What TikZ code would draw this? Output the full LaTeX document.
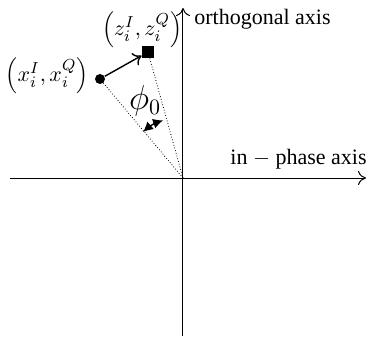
\documentclass[tikz,border=0pt]{standalone}
\usepackage{fontspec}
\setmainfont{Liberation Serif}
\usetikzlibrary{arrows.meta}
\begin{document}
\begin{tikzpicture}[x=0.5pt,y=-0.5pt,
  axis/.style={line width=0.5pt,-{To[length=4pt,width=7pt]}},
  guide/.style={line width=0.4pt,densely dotted},
  lbl/.style={inner sep=0pt,font=\fontsize{11}{13}\selectfont},
  pt/.style={circle,fill=black,inner sep=0pt,minimum size=5pt},
  sq/.style={rectangle,fill=black,inner sep=0pt,minimum size=6pt}]
\useasboundingbox (0,0) rectangle (371,339);
\coordinate (O) at (183,178);
\coordinate (xl) at (10,178);
\coordinate (xr) at (366,178);
\coordinate (yb) at (183,336);
\coordinate (yt) at (183,8);
\draw[axis] (xl) -- (xr);
\draw[axis] (yb) -- (yt);
\node[pt] (x) at (100,79) {};
\node[sq] (z) at (148,52) {};
\draw[guide] (O) -- (x.center);
\draw[guide] (O) -- (z.center);
\draw[line width=0.7pt,-{To[length=4pt,width=7pt]}] (x) -- (z);
\draw[line width=0.7pt,{Latex[length=5pt,width=5pt]}-{Latex[length=5pt,width=5pt]}] (O) ++(229:61) arc[start angle=229, end angle=251, radius=61];
\node[lbl] (xlab) at (47,76) {$\Bigl(x_i^{I},x_i^{Q}\Bigr)$};
\node[lbl] (zlab) at (142,30) {$\Bigl(z_i^{I},z_i^{Q}\Bigr)$};
\node[lbl,font=\fontsize{16}{18}\selectfont] (phi) at (145,101) {$\phi_0$};
\node[lbl,anchor=west] (orth) at (194,19) {orthogonal axis};
\node[lbl,anchor=east] (inph) at (367,159) {in $-$ phase axis};
\end{tikzpicture}
\end{document}
